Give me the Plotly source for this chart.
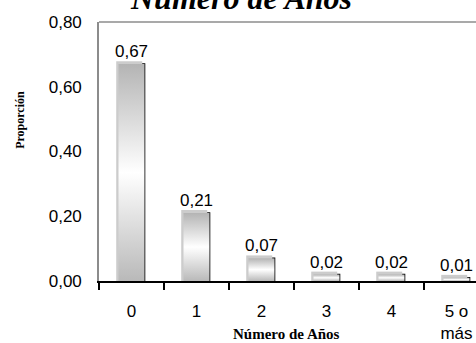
import plotly.graph_objects as go

# Distribution of the number of years
categorias = ["0", "1", "2", "3", "4", "5 o<br>más"]
proporcion = [0.67, 0.21, 0.07, 0.02, 0.02, 0.01]
ticks_y = [0.0, 0.2, 0.4, 0.6, 0.8]

BAR_W = 0.4
SHADOW_DX = -0.035   # shadow offset in category units
SHADOW_DY = 0.009    # shadow offset in data units
GRAD = [[0.0, "#b9b9b9"], [0.5, "#ffffff"], [1.0, "#b4b4b4"]]

fig = go.Figure()
xs = list(range(len(categorias)))

# soft drop shadow behind each bar
for i, v in zip(xs, proporcion):
    x0, x1 = i - BAR_W / 2 + SHADOW_DX, i + BAR_W / 2 + SHADOW_DX
    fig.add_trace(go.Scatter(
        x=[x0, x0, x1, x1, x0], y=[0, v + SHADOW_DY, v + SHADOW_DY, 0, 0],
        mode="lines", fill="toself", fillcolor="#cccccc",
        line=dict(width=0), hoverinfo="skip", showlegend=False))

# gradient body of each bar
for i, v in zip(xs, proporcion):
    x0, x1 = i - BAR_W / 2, i + BAR_W / 2
    fig.add_trace(go.Scatter(
        x=[x0, x0, x1, x1, x0], y=[0, v, v, 0, 0],
        mode="lines", fill="toself",
        fillgradient=dict(type="vertical", colorscale=GRAD),
        line=dict(width=0), hoverinfo="skip", showlegend=False))

# outlines and value labels
fig.add_trace(go.Bar(
    x=xs, y=proporcion, width=BAR_W,
    marker=dict(color="rgba(0,0,0,0)", line=dict(color="black", width=1.6)),
    texttemplate="%{y:.2f}", textposition="outside", constraintext="none",
    textfont=dict(family="Liberation Sans, Arial", size=17, color="black"),
    cliponaxis=False, showlegend=False))

fig.update_layout(
    width=476, height=343,
    margin=dict(l=99, r=0, t=22, b=59),
    paper_bgcolor="white", plot_bgcolor="white",
    separators=",.",
    bargap=0.6,
    xaxis=dict(
        range=[-0.5, 5.3], tickmode="array", tickvals=xs, ticktext=categorias,
        ticks="", showgrid=False, zeroline=False,
        showline=True, linecolor="black", linewidth=1.6,
        tickfont=dict(family="Liberation Sans, Arial", size=17, color="black"),
        ticklabelstandoff=14,
        minor=dict(tickmode="array", tickvals=[i - 0.5 for i in xs],
                   ticks="outside", ticklen=7, tickwidth=1.6, tickcolor="black"),
    ),
    yaxis=dict(
        range=[0, 0.8], tickmode="array", tickvals=ticks_y, tickformat=".2f",
        ticks="", showgrid=False, zeroline=False,
        showline=True, linecolor="#8c8c8c", linewidth=1.6,
        tickfont=dict(family="Liberation Sans, Arial", size=17, color="black"),
        ticklabelstandoff=12,
    ),
    shapes=[dict(type="line", xref="paper", yref="paper", x0=0, x1=1, y0=1, y1=1,
                 line=dict(color="#8c8c8c", width=1.6))],
    annotations=[
        dict(text="<b><i>Número de Años</i></b>", xref="paper", yref="paper",
             x=(241 - 99) / 377, y=1, yanchor="bottom", yshift=4, showarrow=False,
             font=dict(family="Liberation Serif, Times New Roman", size=32, color="black")),
        dict(text="<b>Número de Años</b>", xref="paper", yref="paper",
             x=(286 - 99) / 377, y=(284 - 338) / 262, yanchor="middle", showarrow=False,
             font=dict(family="Liberation Serif, Times New Roman", size=15, color="black")),
        dict(text="<b>Proporción</b>", xref="paper", yref="paper", textangle=-90,
             x=(20 - 99) / 377, y=(284 - 121) / 262, xanchor="center", yanchor="middle",
             showarrow=False,
             font=dict(family="Liberation Serif, Times New Roman", size=12, color="black")),
    ],
)

fig.write_html("out.html")
